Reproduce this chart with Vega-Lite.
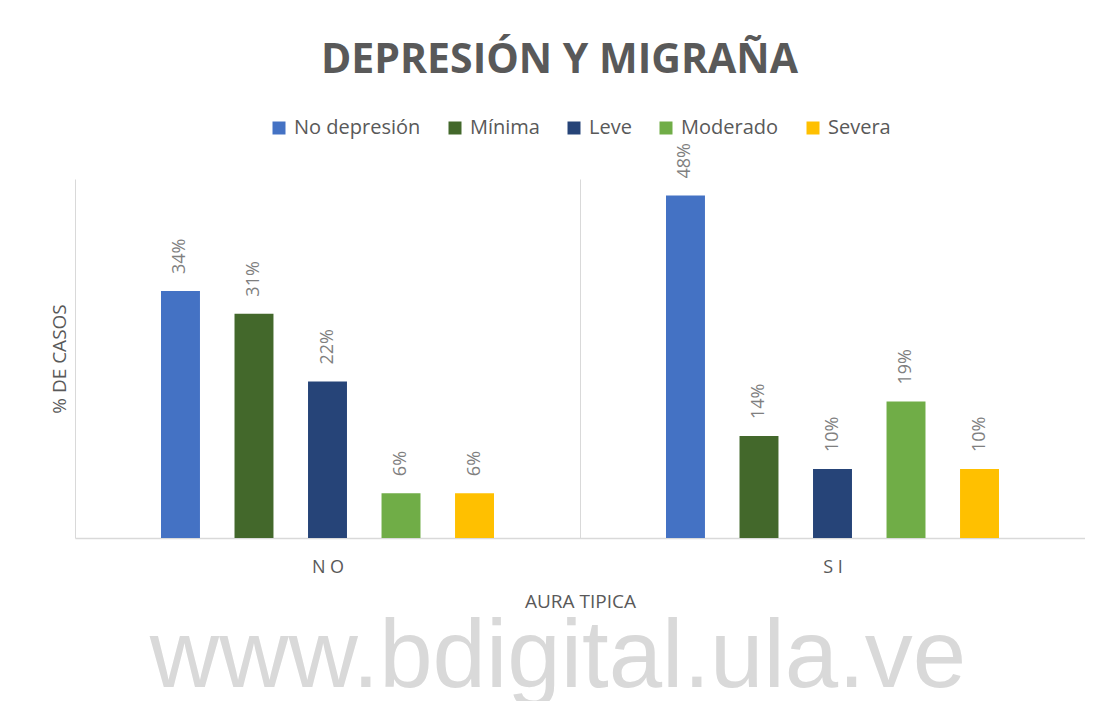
{
  "$schema": "https://vega.github.io/schema/vega-lite/v6.json",
  "background": "white",
  "padding": {"left": 50, "top": 40, "right": 0, "bottom": 0},
  "title": {
    "text": "DEPRESIÓN Y MIGRAÑA",
    "anchor": "middle",
    "font": "Open Sans",
    "fontSize": 41,
    "fontWeight": "bold",
    "color": "#595959",
    "dx": -8,
    "offset": 36
  },
  "vconcat": [
    {
      "width": 1010,
      "height": 359,
      "title": {
        "text": "www.bdigital.ula.ve",
        "orient": "bottom",
        "anchor": "middle",
        "font": "Liberation Sans",
        "fontSize": 96,
        "fontWeight": "normal",
        "color": "#d9d9d9",
        "dx": -22,
        "offset": 0
      },
      "data": {
        "values": [
          {"aura": "NO", "dep": "No depresión", "pct": 0.344},
          {"aura": "NO", "dep": "Mínima", "pct": 0.3125},
          {"aura": "NO", "dep": "Leve", "pct": 0.218},
          {"aura": "NO", "dep": "Moderado", "pct": 0.0625},
          {"aura": "NO", "dep": "Severa", "pct": 0.0625},
          {"aura": "SI", "dep": "No depresión", "pct": 0.477},
          {"aura": "SI", "dep": "Mínima", "pct": 0.142},
          {"aura": "SI", "dep": "Leve", "pct": 0.096},
          {"aura": "SI", "dep": "Moderado", "pct": 0.19},
          {"aura": "SI", "dep": "Severa", "pct": 0.096}
        ]
      },
      "encoding": {
        "x": {
          "field": "aura",
          "type": "nominal",
          "sort": ["NO", "SI"],
          "scale": {"paddingInner": 0, "paddingOuter": 0},
          "axis": {
            "title": "AURA TIPICA",
            "titleFont": "Open Sans",
            "titleFontSize": 19,
            "titleFontWeight": "normal",
            "titleColor": "#595959",
            "titlePadding": 16,
            "labelFont": "Open Sans",
            "labelFontSize": 18,
            "labelColor": "#595959",
            "labelAngle": 0,
            "labelPadding": 20,
            "labelExpr": "join(split(datum.label, ''), ' ')",
            "ticks": false,
            "domainColor": "#d9d9d9",
            "domainWidth": 1.5,
            "grid": true,
            "gridColor": "#d9d9d9",
            "gridWidth": 1,
            "tickBand": "extent"
          }
        },
        "xOffset": {
          "field": "dep",
          "type": "nominal",
          "scale": {
            "domain": ["pre", "No depresión", "Mínima", "Leve", "Moderado", "Severa", "post"],
            "paddingInner": 0.47,
            "paddingOuter": 0.17
          }
        },
        "y": {
          "field": "pct",
          "type": "quantitative",
          "scale": {"domain": [0, 0.5]},
          "axis": {
            "title": "% DE CASOS",
            "titleFont": "Open Sans",
            "titleFontSize": 19,
            "titleFontWeight": "normal",
            "titleColor": "#595959",
            "titlePadding": 6,
            "labels": false,
            "ticks": false,
            "domain": false,
            "grid": false
          }
        }
      },
      "layer": [
        {
          "mark": {"type": "bar"},
          "encoding": {
            "color": {
              "field": "dep",
              "type": "nominal",
              "scale": {
                "domain": ["No depresión", "Mínima", "Leve", "Moderado", "Severa"],
                "range": ["#4472C4", "#43682B", "#264478", "#70AD47", "#FFC000"]
              },
              "legend": {
                "title": null,
                "orient": "top",
                "direction": "horizontal",
                "symbolType": "square",
                "symbolSize": 169,
                "symbolStrokeWidth": 0,
                "labelFont": "Open Sans",
                "labelFontSize": 20,
                "labelColor": "#595959",
                "labelOffset": 5,
                "columnPadding": 24,
                "offset": 5
              }
            }
          }
        },
        {
          "mark": {
            "type": "text",
            "angle": 270,
            "align": "left",
            "baseline": "middle",
            "dx": 17,
            "font": "Open Sans",
            "fontSize": 18,
            "color": "#7f7f7f"
          },
          "encoding": {
            "text": {"field": "pct", "type": "quantitative", "format": ".0%"}
          }
        }
      ]
    }
  ],
  "config": {
    "view": {"stroke": null},
    "legend": {"layout": {"top": {"anchor": "middle"}}}
  }
}
